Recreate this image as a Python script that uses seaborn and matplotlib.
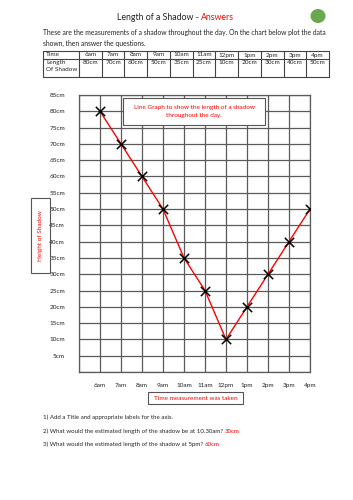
import matplotlib
matplotlib.use('Agg')
import matplotlib.pyplot as plt
import seaborn as sns
import pandas as pd
from matplotlib.patches import Rectangle, Ellipse

times = ['6am', '7am', '8am', '9am', '10am', '11am', '12pm', '1pm', '2pm', '3pm', '4pm']
lengths = [80, 70, 60, 50, 35, 25, 10, 20, 30, 40, 50]
y_ticks = list(range(5, 90, 5))

RED = '#ff0000'
GRID = '#5a5a5a'

sns.set_style('white')
plt.rcParams['font.family'] = ['Lato', 'DejaVu Sans']

W, H = 353, 500
fig = plt.figure(figsize=(W / 100, H / 100), dpi=100)

# overlay axes in pixel coordinates for the worksheet text
page = fig.add_axes([0, 0, 1, 1])
page.set_xlim(0, W)
page.set_ylim(H, 0)
page.axis('off')

page.text(201, 18, 'Length of a Shadow - ', ha='right', va='center', fontsize=6.3, color='#222222')
page.text(201, 18, 'Answers', ha='left', va='center', fontsize=6.3, color=RED)
page.add_patch(Ellipse((318, 16), 15, 14, color='#6aa84f', lw=0))

fs = 4.4
page.text(43, 33, 'These are the measurements of a shadow throughout the day. On the chart below plot the data',
          fontsize=4.9, va='center', color='#222222')
page.text(43, 43, 'shown, then answer the questions.', fontsize=4.9, va='center', color='#222222')

# table
tx0, tx1 = 43, 329
first_w = 36
col_w = (tx1 - tx0 - first_w) / len(times)
ty0, ty1, ty2 = 51, 59, 77
for yy in (ty0, ty1, ty2):
    page.plot([tx0, tx1], [yy, yy], color='#444444', lw=0.8)
xs = [tx0, tx0 + first_w] + [tx0 + first_w + col_w * (i + 1) for i in range(len(times))]
for xx in xs:
    page.plot([xx, xx], [ty0, ty2], color='#444444', lw=0.8)
page.text(tx0 + 3, (ty0 + ty1) / 2, 'Time', fontsize=4.6, va='center')
page.text(tx0 + 3, ty1 + 1, 'Length\nOf Shadow', fontsize=4.6, va='top', linespacing=1.4)
for i, (t, v) in enumerate(zip(times, lengths)):
    cx = tx0 + first_w + col_w * (i + 0.5)
    page.text(cx, (ty0 + ty1) / 2, t, fontsize=4.6, ha='center', va='center')
    page.text(cx, ty1 + 1, f'{v}cm', fontsize=4.6, ha='center', va='top')

# chart
ax = fig.add_axes([79 / W, 1 - 372 / H, (310 - 79) / W, (372 - 95) / H])
df = pd.DataFrame({'x': range(len(times)), 'length': lengths})
sns.lineplot(data=df, x='x', y='length', color=RED, lw=1.0, ax=ax, zorder=3)
sns.scatterplot(data=df, x='x', y='length', marker='x', s=45, color='black',
                linewidth=1.1, ax=ax, zorder=4)
ax.set_xlim(-1, len(times) - 1)
ax.set_ylim(0, 85)
ax.set_xticks(range(-1, len(times)), [''] + times)
ax.set_yticks([0] + y_ticks, [''] + [f'{v}cm' for v in y_ticks])
ax.grid(True, color=GRID, lw=0.9)
ax.set_axisbelow(True)
for s in ax.spines.values():
    s.set_color(GRID)
    s.set_linewidth(0.9)
ax.tick_params(length=0, labelsize=4.6, colors='#222222')
ax.tick_params(axis='x', pad=8)
ax.tick_params(axis='y', pad=10)
ax.set_xlabel('')
ax.set_ylabel('')

# label boxes
page.add_patch(Rectangle((123, 98), 142, 27, fill=True, facecolor='white', edgecolor='#555555', lw=0.8, zorder=5))
page.text(194, 111.5, 'Line Graph to show the length of a shadow\nthroughout the day.', ha='center', va='center',
          fontsize=4.6, color=RED, linespacing=1.6, zorder=6)
page.add_patch(Rectangle((31, 198), 19, 75, fill=False, edgecolor='#555555', lw=0.8))
page.text(40.5, 235.5, 'Height of Shadow', rotation=90, ha='center', va='center', fontsize=4.6, color=RED)
page.add_patch(Rectangle((148, 392), 95, 12, fill=False, edgecolor='#555555', lw=0.8))
page.text(195.5, 398, 'Time measurement was taken', ha='center', va='center', fontsize=4.6, color=RED)

# questions
page.text(43, 419, '1) Add a Title and appropriate labels for the axis.', fontsize=fs, va='baseline')
q2 = page.text(43, 433, '2) What would the estimated length of the shadow be at 10.30am? ', fontsize=fs, va='baseline')
page.annotate('30cm', xycoords=q2, xy=(1, 0), va='bottom', fontsize=fs, color=RED)
q3 = page.text(43, 446, '3) What would the estimated length of the shadow at 5pm? ', fontsize=fs, va='baseline')
page.annotate('60cm', xycoords=q3, xy=(1, 0), va='bottom', fontsize=fs, color=RED)

page.set_zorder(2)
page.patch.set_alpha(0)

fig.savefig('out.png', dpi=100)
